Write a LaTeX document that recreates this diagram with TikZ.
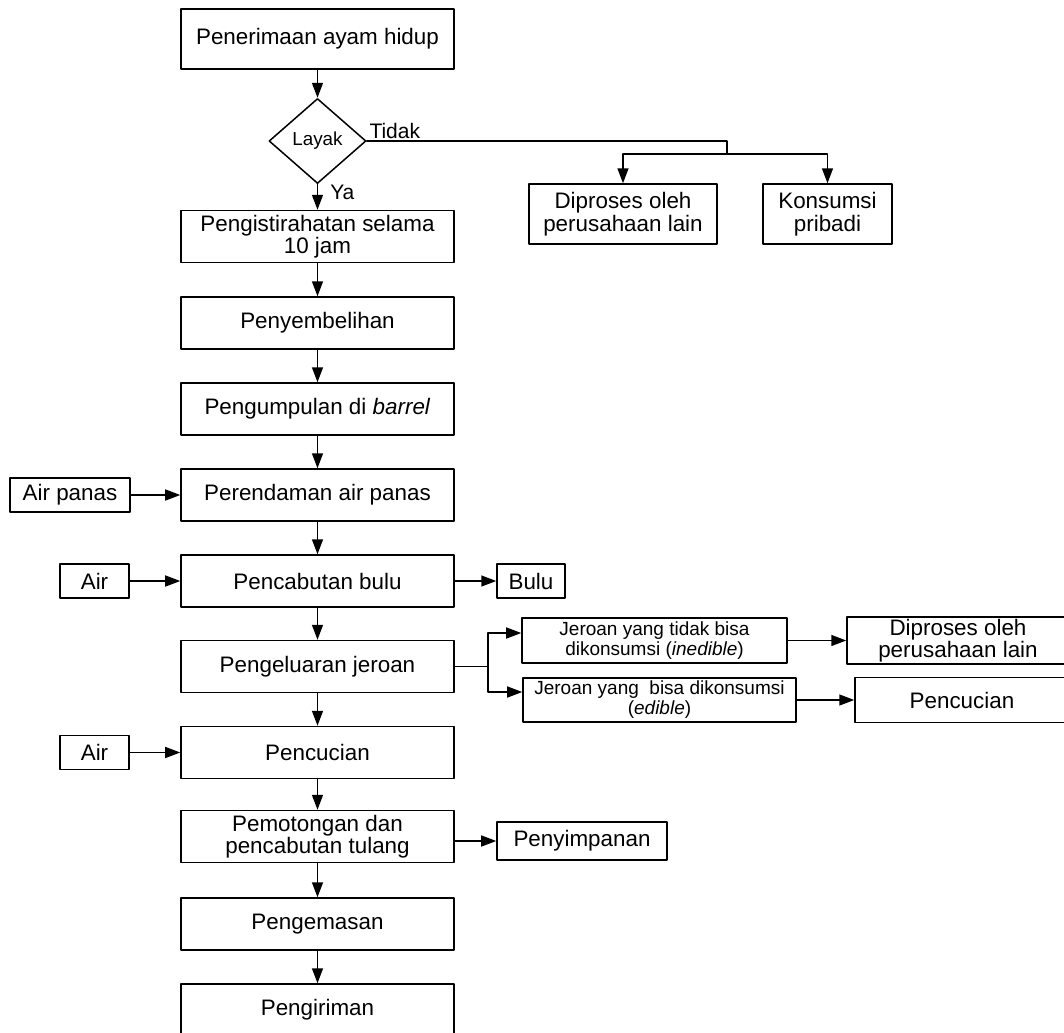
\documentclass[tikz,border=0pt]{standalone}
\usepackage{fontspec}
\setmainfont{Liberation Sans}
\usetikzlibrary{arrows.meta,shapes.geometric}
\tikzset{
  proses/.style={draw,rectangle,minimum width=136.5bp,minimum height=26bp,inner sep=1bp,align=center,font=\fontsize{11.2bp}{11.2bp}\selectfont},
  sisi/.style={draw,rectangle,minimum height=17bp,inner sep=1bp,align=center,font=\fontsize{11.2bp}{11.2bp}\selectfont},
  jeroanbox/.style={draw,rectangle,minimum height=22.5bp,inner sep=1bp,align=center,font=\fontsize{9.5bp}{10bp}\selectfont},
  keputusan/.style={draw,diamond,minimum width=48.5bp,minimum height=42.5bp,inner sep=0pt,font=\fontsize{9.4bp}{9.4bp}\selectfont},
  ket/.style={inner sep=1bp,font=\fontsize{10.5bp}{10.5bp}\selectfont},
  every picture/.style={line cap=round,line join=round}
}

\begin{document}
\begin{tikzpicture}[x=0.5bp,y=-0.5bp,line width=0.75bp,>={Triangle[length=7.5bp,width=5.5bp]}]
  \clip (0,0) rectangle (1064,1033);
  % alur utama
  \node[proses,minimum height=30bp] (terima) at (317.5,39) {Penerimaan ayam hidup};
  \node[keputusan] (layak) at (317.5,141) {Layak};
  \node[proses] (istirahat) at (317.5,236.5) {Pengistirahatan selama\\10 jam};
  \node[proses] (sembelih) at (317.5,323) {Penyembelihan};
  \node[proses] (kumpul) at (317.5,409) {Pengumpulan di \textit{barrel}};
  \node[proses] (rendam) at (317.5,495) {Perendaman air panas};
  \node[proses] (cabut) at (317.5,581) {Pencabutan bulu};
  \node[proses] (jeroan) at (317.5,666.5) {Pengeluaran jeroan};
  \node[proses] (cuci) at (317.5,752.5) {Pencucian};
  \node[proses] (potong) at (317.5,836.5) {Pemotongan dan\\pencabutan tulang};
  \node[proses] (kemas) at (317.5,924) {Pengemasan};
  \node[proses] (kirim) at (317.5,1010) {Pengiriman};
  % cabang tidak layak
  \coordinate (pisah) at (727,154);
  \node[sisi,minimum width=94bp,minimum height=30bp] (lainA) at (623,214) {Diproses oleh\\perusahaan lain};
  \node[sisi,minimum width=64.5bp,minimum height=30bp] (pribadi) at (827.5,214) {Konsumsi\\pribadi};
  % masukan dan keluaran samping
  \node[sisi,minimum width=60bp] (airpanas) at (70,495) {Air panas};
  \node[sisi,minimum width=34.5bp] (airA) at (94.5,581) {Air};
  \node[sisi,minimum width=34bp] (bulu) at (531,581) {Bulu};
  \node[sisi,minimum width=34.5bp] (airB) at (94.5,752.5) {Air};
  \node[sisi,minimum width=85bp,minimum height=19bp] (simpan) at (582,841) {Penyimpanan};
  % jeroan
  \coordinate (cabang) at (488,666.5);
  \node[jeroanbox,minimum width=132.5bp] (inedible) at (654.5,640.5) {Jeroan yang tidak bisa\\dikonsumsi (\textit{inedible})};
  \node[jeroanbox,minimum width=136.5bp,minimum height=22bp] (edible) at (659.5,700) {Jeroan yang\ \ bisa dikonsumsi\\(\textit{edible})};
  \node[sisi,minimum width=111bp,minimum height=22.5bp] (lainB) at (958,640.5) {Diproses oleh\\perusahaan lain};
  \node[sisi,minimum width=107bp,minimum height=22.5bp] (cuciB) at (962,700) {Pencucian};

  \draw[->] (terima) -- (layak);
  \draw[->] (layak) -- node[ket,pos=0.3,anchor=west,xshift=5bp] {Ya} (istirahat);
  \draw[->] (istirahat) -- (sembelih);
  \draw[->] (sembelih) -- (kumpul);
  \draw[->] (kumpul) -- (rendam);
  \draw[->] (rendam) -- (cabut);
  \draw[->] (cabut) -- (jeroan);
  \draw[->] (jeroan) -- (cuci);
  \draw[->] (cuci) -- (potong);
  \draw[->] (potong) -- (kemas);
  \draw[->] (kemas) -- (kirim);

  \draw (layak.east) node[ket,anchor=south west] {Tidak} -| (pisah);
  \draw[->] (pisah) -| (lainA);
  \draw[->] (pisah) -| (pribadi);

  \draw[->] (airpanas) -- (rendam);
  \draw[->] (airA) -- (cabut);
  \draw[->] (cabut) -- (bulu);
  \draw[->] (airB) -- (cuci);
  \draw[->] (potong.east |- simpan) -- (simpan);

  \draw (jeroan.east) -- (cabang);
  \draw[->] (cabang) |- ([yshift=3.75bp]inedible.west);
  \draw[->] (cabang) |- ([yshift=4bp]edible.west);
  \draw[->] (inedible) -- (lainB);
  \draw[->] (edible) -- (cuciB);
\end{tikzpicture}
\end{document}
